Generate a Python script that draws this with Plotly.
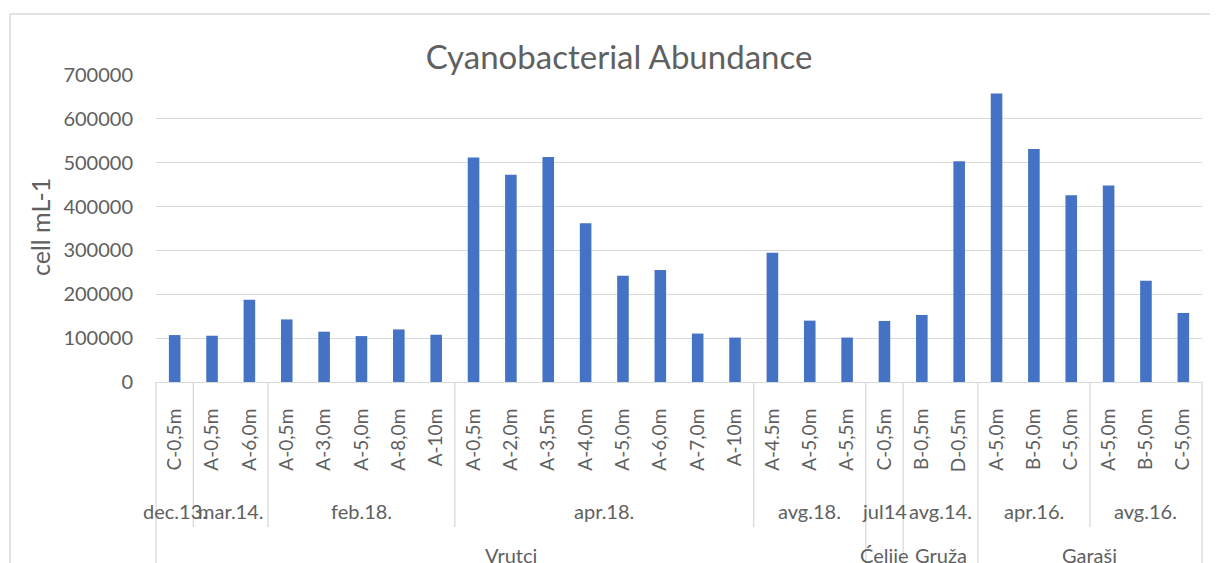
import plotly.graph_objects as go

# ---- data ----
samples = ["C-0,5m",
           "A-0,5m", "A-6,0m",
           "A-0,5m", "A-3,0m", "A-5,0m", "A-8,0m", "A-10m",
           "A-0,5m", "A-2,0m", "A-3,5m", "A-4,0m", "A-5,0m", "A-6,0m", "A-7,0m", "A-10m",
           "A-4.5m", "A-5,0m", "A-5,5m",
           "C-0,5m",
           "B-0,5m", "D-0,5m",
           "A-5,0m", "B-5,0m", "C-5,0m",
           "A-5,0m", "B-5,0m", "C-5,0m"]
abundance = [107000,
             105500, 187500,
             142700, 114700, 104700, 119900, 107800,
             512000, 472600, 512800, 361800, 242000, 255300, 110400, 101300,
             294600, 139900, 101300,
             139200,
             152900, 503300,
             658000, 531300, 425900,
             447800, 231000, 157400]
date_labels = ["dec.13.", "mar.14.", "feb.18.", "apr.18.", "avg.18.", "jul14", "avg.14.", "apr.16.", "avg.16."]
date_counts = [1, 2, 5, 8, 3, 1, 2, 3, 3]
site_labels = ["Vrutci", "Ćelije", "Gruža", "Garaši"]
site_counts = [19, 1, 2, 6]
y_ticks = [0, 100000, 200000, 300000, 400000, 500000, 600000, 700000]

# ---- layout constants (page pixels; page body adds an 8px offset) ----
OFF = 8
W, H = 1218 - OFF, 563 - OFF
PLOT_L, PLOT_R, PLOT_T, PLOT_B = 156, 1202, 75, 382   # in page pixels
ML = PLOT_L - OFF
MR = W - (PLOT_R - OFF)
MT = PLOT_T - OFF
MB = H - (PLOT_B - OFF)
PW, PH = W - ML - MR, H - MT - MB
n = len(samples)
TXT = "#606060"
LINE = "#D9D9D9"
FONT = "Lato"

def py_paper(py):
    return ((PLOT_B - OFF) - (py - OFF)) / PH

def px_paper(px):
    return ((px - OFF) - ML) / PW

fig = go.Figure(go.Bar(
    x=list(range(n)), y=abundance, marker_color="#4472C4", width=0.31,
    marker_line_width=0,
))

shapes = []
annotations = []

start = 0
bounds_date = [0]
for lab, c in zip(date_labels, date_counts):
    center = (start + c / 2) / n
    annotations.append(dict(x=center, y=py_paper(511), xref="paper", yref="paper",
                            text=lab, showarrow=False, xanchor="center", yanchor="middle",
                            font=dict(family=FONT, size=20, color=TXT)))
    start += c
    bounds_date.append(start)

start = 0
bounds_site = [0]
for lab, c in zip(site_labels, site_counts):
    center = (start + c / 2) / n
    annotations.append(dict(x=center, y=py_paper(555), xref="paper", yref="paper",
                            text=lab, showarrow=False, xanchor="center", yanchor="middle",
                            font=dict(family=FONT, size=20, color=TXT)))
    start += c
    bounds_site.append(start)

for b in bounds_date:
    if b in bounds_site:
        continue
    shapes.append(dict(type="line", xref="paper", yref="paper", x0=b / n, x1=b / n,
                       y0=0, y1=py_paper(527), line=dict(color=LINE, width=1.3)))
for b in bounds_site:
    shapes.append(dict(type="line", xref="paper", yref="paper", x0=b / n, x1=b / n,
                       y0=0, y1=py_paper(575), line=dict(color=LINE, width=1.3)))

# chart border (top + left visible)
shapes.append(dict(type="line", xref="paper", yref="paper",
                   x0=px_paper(10), x1=px_paper(1240),
                   y0=py_paper(14), y1=py_paper(14),
                   line=dict(color=LINE, width=1.5)))
shapes.append(dict(type="line", xref="paper", yref="paper",
                   x0=px_paper(10), x1=px_paper(10),
                   y0=py_paper(14), y1=py_paper(590),
                   line=dict(color=LINE, width=1.5)))

# y axis title
annotations.append(dict(x=px_paper(40), y=py_paper(227), xref="paper", yref="paper",
                        text="cell mL-1", textangle=-90, showarrow=False,
                        xanchor="center", yanchor="middle",
                        font=dict(family=FONT, size=25, color=TXT)))

fig.update_layout(
    width=W, height=H,
    margin=dict(l=ML, r=MR, t=MT, b=MB, pad=0),
    paper_bgcolor="white", plot_bgcolor="white",
    showlegend=False,
    title=dict(text="Cyanobacterial Abundance", x=(619 - OFF) / W, y=1 - (57 - OFF) / H,
               xanchor="center", yanchor="middle",
               font=dict(family=FONT, size=33, color=TXT)),
    shapes=shapes, annotations=annotations,
    font=dict(family=FONT, color=TXT),
)
fig.update_xaxes(
    tickmode="array", tickvals=list(range(n)), ticktext=samples,
    tickangle=-90, range=[-0.5, n - 0.5],
    showgrid=False, zeroline=False,
    showline=True, linecolor=LINE, linewidth=1.3,
    ticks="", ticklabelstandoff=18,
    tickfont=dict(family=FONT, size=19, color=TXT),
)
fig.update_yaxes(
    range=[0, 700000], tickmode="array", tickvals=y_ticks,
    ticktext=[str(v) for v in y_ticks],
    showgrid=True, gridcolor=LINE, gridwidth=1.3,
    zeroline=False, showline=False, ticks="", ticklabelstandoff=22,
    tickfont=dict(family=FONT, size=20, color=TXT),
)

fig.write_html("out.html")
